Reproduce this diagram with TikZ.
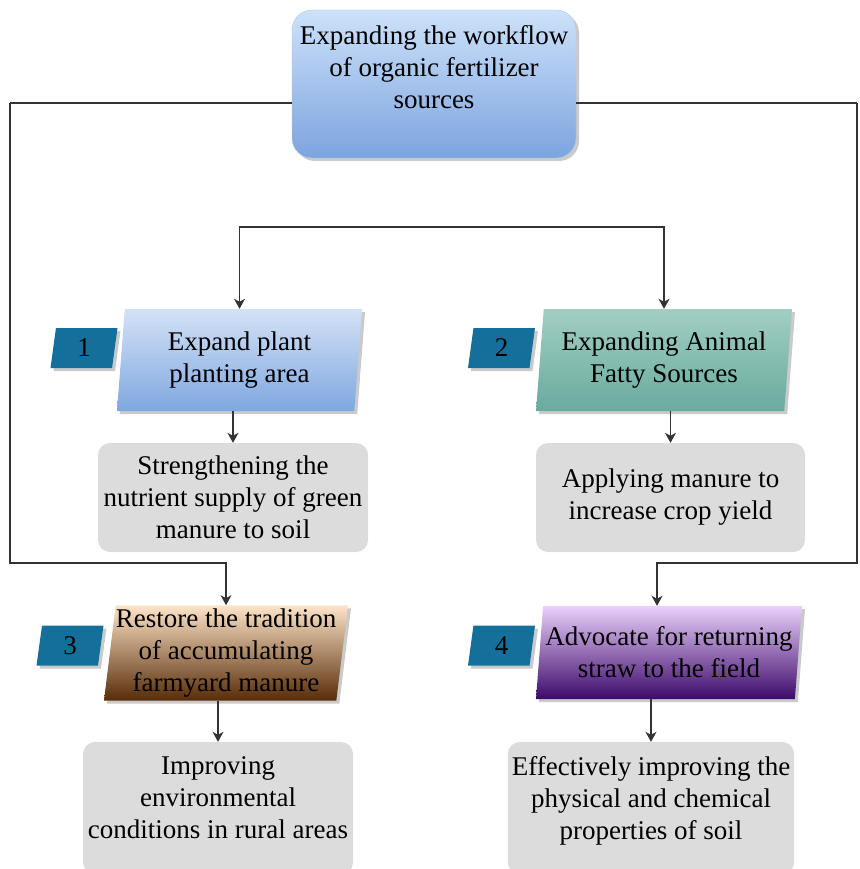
\documentclass[tikz,border=0pt]{standalone}
\usepackage{fontspec}
\setmainfont{Liberation Serif}
\usepackage{xcolor}
\usepackage{tikz}
\usetikzlibrary{
	arrows.meta,
	shapes.geometric,
	shadows
}
\definecolor{SrcTop}{RGB}{205,226,250}
\definecolor{SrcBot}{RGB}{124,164,222}
\definecolor{PlantTop}{RGB}{212,226,246}
\definecolor{PlantBot}{RGB}{126,167,224}
\definecolor{AnimalTop}{RGB}{162,206,196}
\definecolor{AnimalBot}{RGB}{104,171,157}
\definecolor{ManureTop}{RGB}{253,228,200}
\definecolor{ManureBot}{RGB}{88,44,8}
\definecolor{StrawTop}{RGB}{234,208,252}
\definecolor{StrawBot}{RGB}{60,10,106}
\definecolor{BadgeBlue}{RGB}{20,112,155}
\definecolor{ResultGrey}{RGB}{220,220,220}

\begin{document}
\begin{tikzpicture}[x=1pt,y=-1pt,
		every node/.style={font=\fontsize{27}{32}\selectfont,align=center,text=black},
		wire/.style={draw=black!80,line width=1.2pt},
		flow/.style={wire,-{Stealth[length=10pt,width=11pt,inset=3pt]}},
		shade3d/.style={drop shadow={shadow xshift=3pt,shadow yshift=-3pt,fill=black!35,opacity=0.6}},
		srcbox/.style={rounded corners=20pt,minimum width=284pt,minimum height=148pt,top color=SrcTop,bottom color=SrcBot,draw=SrcBot!60,shade3d},
		para/.style={trapezium,trapezium left angle=83,trapezium right angle=97,trapezium stretches body,inner xsep=0pt,shade3d},
		badge/.style={trapezium,trapezium left angle=73,trapezium right angle=107,trapezium stretches body,minimum width=67pt,minimum height=40pt,inner sep=0pt,fill=BadgeBlue,shade3d},
		result/.style={rounded corners=12pt,fill=ResultGrey,inner sep=4pt}
	]
		\useasboundingbox (0,0) rectangle (859,869);
		\node[srcbox,text depth=34pt] (src) at (434,84) {Expanding the workflow\\of organic fertilizer\\sources};
		\node[para,minimum width=245pt,minimum height=102pt,top color=PlantTop,bottom color=PlantBot] (plant) at (239.5,360) {Expand plant\\planting area};
		\node[para,minimum width=256pt,minimum height=102pt,top color=AnimalTop,bottom color=AnimalBot] (animal) at (664,360) {Expanding Animal\\Fatty Sources};
		\node[para,minimum width=244pt,minimum height=94pt,top color=ManureTop,bottom color=ManureBot] (manure) at (226,653) {Restore the tradition\\of accumulating\\farmyard manure};
		\node[para,minimum width=266pt,minimum height=93pt,top color=StrawTop,bottom color=StrawBot] (straw) at (669,652.5) {Advocate for returning\\straw to the field};
		\node[badge] (n1) at (84,348) {1};
		\node[badge] (n2) at (501.5,348) {2};
		\node[badge] (n3) at (70,645.5) {3};
		\node[badge] (n4) at (501.5,645.5) {4};
		\node[result,minimum width=270pt,minimum height=109pt] (green) at (233,497.5) {Strengthening the\\nutrient supply of green\\manure to soil};
		\node[result,minimum width=269pt,minimum height=109pt] (yield) at (670.5,497.5) {Applying manure to\\increase crop yield};
		\node[result,minimum width=270pt,minimum height=132pt,text depth=20pt] (rural) at (218,808) {Improving\\environmental\\conditions in rural areas};
		\node[result,minimum width=282pt,minimum height=132pt,text depth=20pt] (soil) at (651,808) {Effectively improving the\\physical and chemical\\properties of soil};
		\coordinate (lt) at (10,103);
		\coordinate (lb) at (10,563);
		\coordinate (rt) at (857,103);
		\coordinate (rb) at (857,563);
		\coordinate (fork) at (450,227);
		\draw[wire] (src.west |- lt) -- (lt);
		\draw[wire] (src.east |- rt) -- (rt);
		\draw[flow] (lt) -- (lb) -| (manure.north);
		\draw[flow] (rt) -- (rb) -| ([xshift=-12pt]straw.north);
		\draw[flow] (fork) -| (plant.north);
		\draw[flow] (fork) -| (animal.north);
		\draw[flow] (green.north |- plant.south) -- (green.north);
		\draw[flow] (yield.north |- animal.south) -- (yield.north);
		\draw[flow] (rural.north |- manure.south) -- (rural.north);
		\draw[flow] (soil.north |- straw.south) -- (soil.north);
	\end{tikzpicture}
\end{document}
